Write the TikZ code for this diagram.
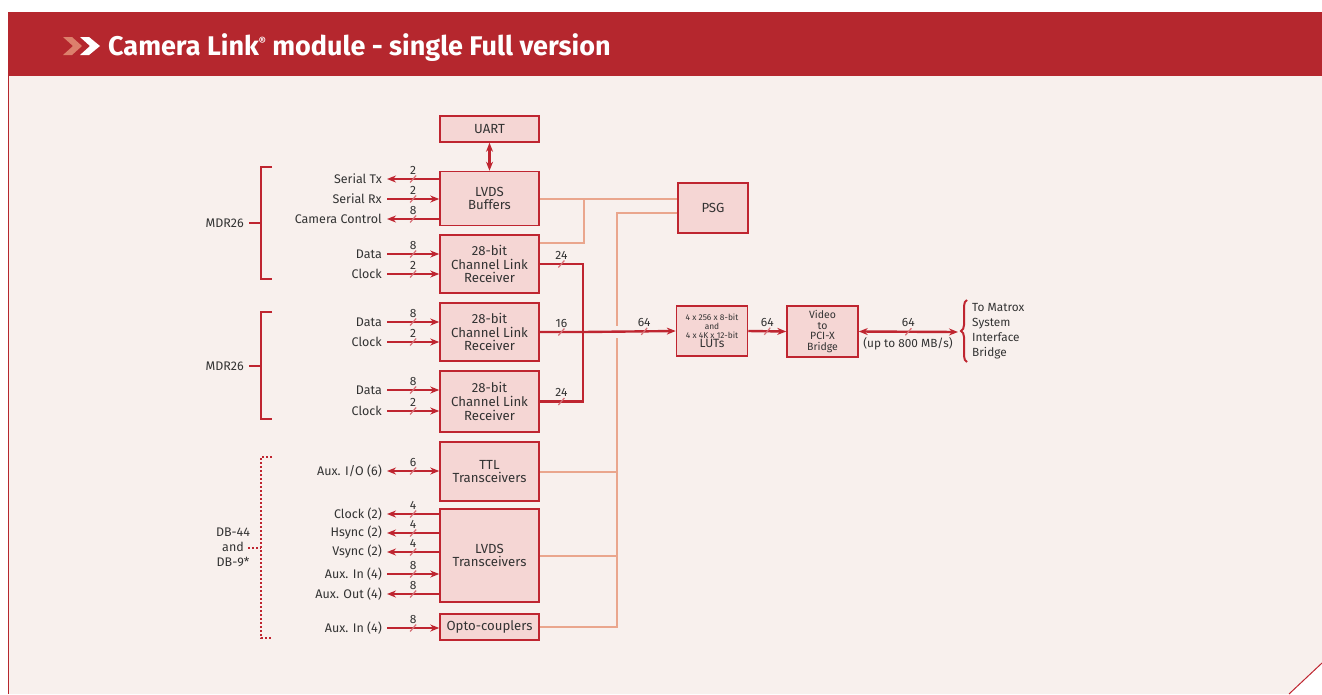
\documentclass[tikz,border=0pt]{standalone}
\usepackage{fontspec}
\setmainfont{Fira Sans}
\usetikzlibrary{positioning, arrows.meta, decorations.pathreplacing}
\definecolor{hdrred}{HTML}{B5272E}
\definecolor{panel}{HTML}{F8F0ED}
\definecolor{boxfill}{HTML}{F5D6D4}
\definecolor{linered}{HTML}{BF2530}
\definecolor{salmon}{HTML}{EAA68D}
\definecolor{chev}{HTML}{DC806C}
\definecolor{txt}{HTML}{333333}
\tikzset{
	>={Stealth[length=9pt, width=7pt]}, % puntas de flecha
	blk/.style={draw=linered, fill=boxfill, line width=1.5pt, minimum width=99pt,
		align=center, text=txt, inner sep=1pt, font=\fontsize{13.2}{13.8}\selectfont}, % cajas
	sig/.style={draw=linered, line width=2.4pt}, % senales
	ctl/.style={draw=salmon, line width=2pt}, % lineas de control
	sigl/.style={text=txt, inner sep=0pt, font=\fontsize{12.5}{13}\selectfont}, % etiquetas
	brk/.style={draw=linered, line width=2pt}, % corchetes
	pics/bw/.style={code={
		\draw[-, linered!65, line width=1.2pt] (-3,3.5) -- (3,-3.5);
		\node[text=txt, inner sep=0pt, font=\fontsize{12}{13}\selectfont] at (0,-9) {#1};
	}}
}

\begin{document}
\begin{tikzpicture}[x=1pt, y=-1pt]
	\useasboundingbox (0,0) rectangle (1322,694);
	% fondo y cabecera
	\fill[hdrred] (8,12) rectangle (1322,76);
	\fill[panel] (8,76) -- (1322,76) -- (1322,663) -- (1289,694) -- (8,694) -- cycle;
	\draw[hdrred, line width=1pt] (8.5,76) -- (8.5,694);
	\draw[linered, line width=1pt] (1289,694) -- (1322,663);
	\fill[chev] (63,37) -- (72,37) -- (82,46) -- (72,55) -- (63,55) -- (73,46) -- cycle;
	\fill[white] (80,37) -- (89,37) -- (100,46) -- (89,55) -- (80,55) -- (90,46) -- cycle;
	\node[anchor=base west, inner sep=0pt, text=white, font=\fontsize{27}{29}\selectfont\bfseries]
		(title) at (108,55) {Camera Link\raisebox{10pt}{\fontsize{11}{11}\selectfont ®} module - single Full version};

	% cajas
	\node[blk, minimum height=26pt] (uart) at (489.5,129) {UART};
	\node[blk, minimum height=54pt] (lvdsbuf) at (489.5,198.5) {LVDS\\Buffers};
	\node[blk, minimum height=58pt] (clrA) at (489.5,264) {28-bit\\Channel Link\\Receiver};
	\node[blk, minimum height=58pt] (clrB) at (489.5,332) {28-bit\\Channel Link\\Receiver};
	\node[blk, minimum height=61pt] (clrC) at (489.5,401.5) {28-bit\\Channel Link\\Receiver};
	\node[blk, minimum height=59pt] (ttl) at (489.5,471.5) {TTL\\Transceivers};
	\node[blk, minimum height=93pt] (lvdstr) at (489.5,555.5) {LVDS\\Transceivers};
	\node[blk, minimum height=26pt] (opto) at (489.5,627) {Opto-couplers};
	\node[blk, minimum width=70pt, minimum height=50pt] (psg) at (713,208) {PSG};
	\node[blk, minimum width=71pt, minimum height=50pt, font=\fontsize{8.4}{9}\selectfont]
		(luts) at (712,331) {4 x 256 x 8-bit\\and\\4 x 4K x 12-bit\\{\fontsize{12}{10}\selectfont LUTs}};
	\node[blk, minimum width=71pt, minimum height=51pt, font=\fontsize{10.5}{10.5}\selectfont]
		(video) at (822.5,331.5) {Video\\to\\PCI-X\\Bridge};

	% corchetes de conectores
	\draw[brk] (272,167) -- (261,167) -- (261,279) -- (272,279);
	\node[sigl, anchor=east] (mdrA) at (244,223) {MDR26};
	\draw[brk] (mdrA.east) ++(5,0) -- (261,223);
	\draw[brk] (272,312) -- (261,312) -- (261,419) -- (272,419);
	\node[sigl, anchor=east] (mdrB) at (244,366) {MDR26};
	\draw[brk] (mdrB.east) ++(5,0) -- (261,366);
	\draw[brk, dash pattern=on 2pt off 2pt] (272,457) -- (261,457) -- (261,638) -- (272,638);
	\node[sigl, align=center, font=\fontsize{12.5}{15}\selectfont] (db) at (233,547) {DB-44\\and\\DB-9*};
	\draw[brk, dash pattern=on 2pt off 2pt] (248,548) -- (261,548);

	% senales de entrada y salida
	\coordinate (stx) at (387,179);
	\node[sigl, left=5pt of stx] (stxl) {Serial Tx};
	\draw[sig, <-] (stx) -- (stx -| lvdsbuf.west) pic[midway]{bw=2};
	\coordinate (srx) at (387,199);
	\node[sigl, left=5pt of srx] (srxl) {Serial Rx};
	\draw[sig, ->] (srx) -- (srx -| lvdsbuf.west) pic[midway]{bw=2};
	\coordinate (camc) at (387,219);
	\node[sigl, left=5pt of camc] (camcl) {Camera Control};
	\draw[sig, <-] (camc) -- (camc -| lvdsbuf.west) pic[midway]{bw=8};

	\coordinate (dA) at (387,254);
	\node[sigl, left=5pt of dA] (dAl) {Data};
	\draw[sig, ->] (dA) -- (dA -| clrA.west) pic[midway]{bw=8};
	\coordinate (cA) at (387,274);
	\node[sigl, left=5pt of cA] (cAl) {Clock};
	\draw[sig, ->] (cA) -- (cA -| clrA.west) pic[midway]{bw=2};

	\coordinate (dB) at (387,322);
	\node[sigl, left=5pt of dB] (dBl) {Data};
	\draw[sig, ->] (dB) -- (dB -| clrB.west) pic[midway]{bw=8};
	\coordinate (cB) at (387,342);
	\node[sigl, left=5pt of cB] (cBl) {Clock};
	\draw[sig, ->] (cB) -- (cB -| clrB.west) pic[midway]{bw=2};

	\coordinate (dC) at (387,390);
	\node[sigl, left=5pt of dC] (dCl) {Data};
	\draw[sig, ->] (dC) -- (dC -| clrC.west) pic[midway]{bw=8};
	\coordinate (cC) at (387,411);
	\node[sigl, left=5pt of cC] (cCl) {Clock};
	\draw[sig, ->] (cC) -- (cC -| clrC.west) pic[midway]{bw=2};

	\coordinate (aio) at (387,471);
	\node[sigl, left=5pt of aio] (aiol) {Aux. I/O (6)};
	\draw[sig, <->] (aio) -- (aio -| ttl.west) pic[midway]{bw=6};

	\coordinate (clk) at (387,514);
	\node[sigl, left=5pt of clk] (clkl) {Clock (2)};
	\draw[sig, <-] (clk) -- (clk -| lvdstr.west) pic[midway]{bw=4};
	\coordinate (hs) at (387,533);
	\node[sigl, left=5pt of hs] (hsl) {Hsync (2)};
	\draw[sig, <-] (hs) -- (hs -| lvdstr.west) pic[midway]{bw=4};
	\coordinate (vs) at (387,552);
	\node[sigl, left=5pt of vs] (vsl) {Vsync (2)};
	\draw[sig, <-] (vs) -- (vs -| lvdstr.west) pic[midway]{bw=4};
	\coordinate (ain) at (387,574);
	\node[sigl, left=5pt of ain] (ainl) {Aux. In (4)};
	\draw[sig, ->] (ain) -- (ain -| lvdstr.west) pic[midway]{bw=8};
	\coordinate (aout) at (387,594);
	\node[sigl, left=5pt of aout] (aoutl) {Aux. Out (4)};
	\draw[sig, <-] (aout) -- (aout -| lvdstr.west) pic[midway]{bw=8};

	\coordinate (oin) at (387,628);
	\node[sigl, left=5pt of oin] (oinl) {Aux. In (4)};
	\draw[sig, ->] (oin) -- (oin -| opto.west) pic[midway]{bw=8};

	\draw[sig, <->] (uart) -- (lvdsbuf);

	% lineas de control
	\coordinate (ja) at (584,198.5);
	\coordinate (jb) at (584,243);
	\draw[ctl] (lvdsbuf.east) -- (lvdsbuf.east -| psg.west);
	\draw[ctl] (ja) -- (jb) -- (jb -| clrA.east);
	\coordinate (jc) at (617,213.3);
	\draw[ctl] (psg.west |- jc) -- (jc) |- (opto.east);
	\draw[ctl] (jc |- ttl.east) -- (ttl.east);
	\draw[ctl] (jc |- lvdstr.east) -- (lvdstr.east);
	\fill[panel] (612,326) rectangle (622,338);

	% bus de datos
	\coordinate (jn) at (583,332);
	\draw[sig] (clrA.east) -| (jn) pic[pos=0.25]{bw=24} |- (clrC.east) pic[pos=0.75]{bw=24};
	\draw[sig, ->] (clrB.east) -- (jn) pic[midway]{bw=16} -- (luts.west) pic[pos=0.66]{bw=64};
	\draw[sig, ->] (luts.east) -- (video.west) pic[midway]{bw=64};
	\coordinate (sib) at (958,332);
	\draw[sig, <->] (video.east) -- (sib) pic[midway]{bw=64};
	\node[sigl, font=\fontsize{11.8}{13}\selectfont] (rate) at (908,344) {(up to 800 MB/s)};
	\draw[brk, decorate, decoration={brace, amplitude=6pt}] (967,362) -- (967,300);
	\node[sigl, anchor=west, align=left, font=\fontsize{11.8}{15}\selectfont] (mtx) at (972,331)
		{To Matrox\\System\\Interface\\Bridge};
\end{tikzpicture}
\end{document}
